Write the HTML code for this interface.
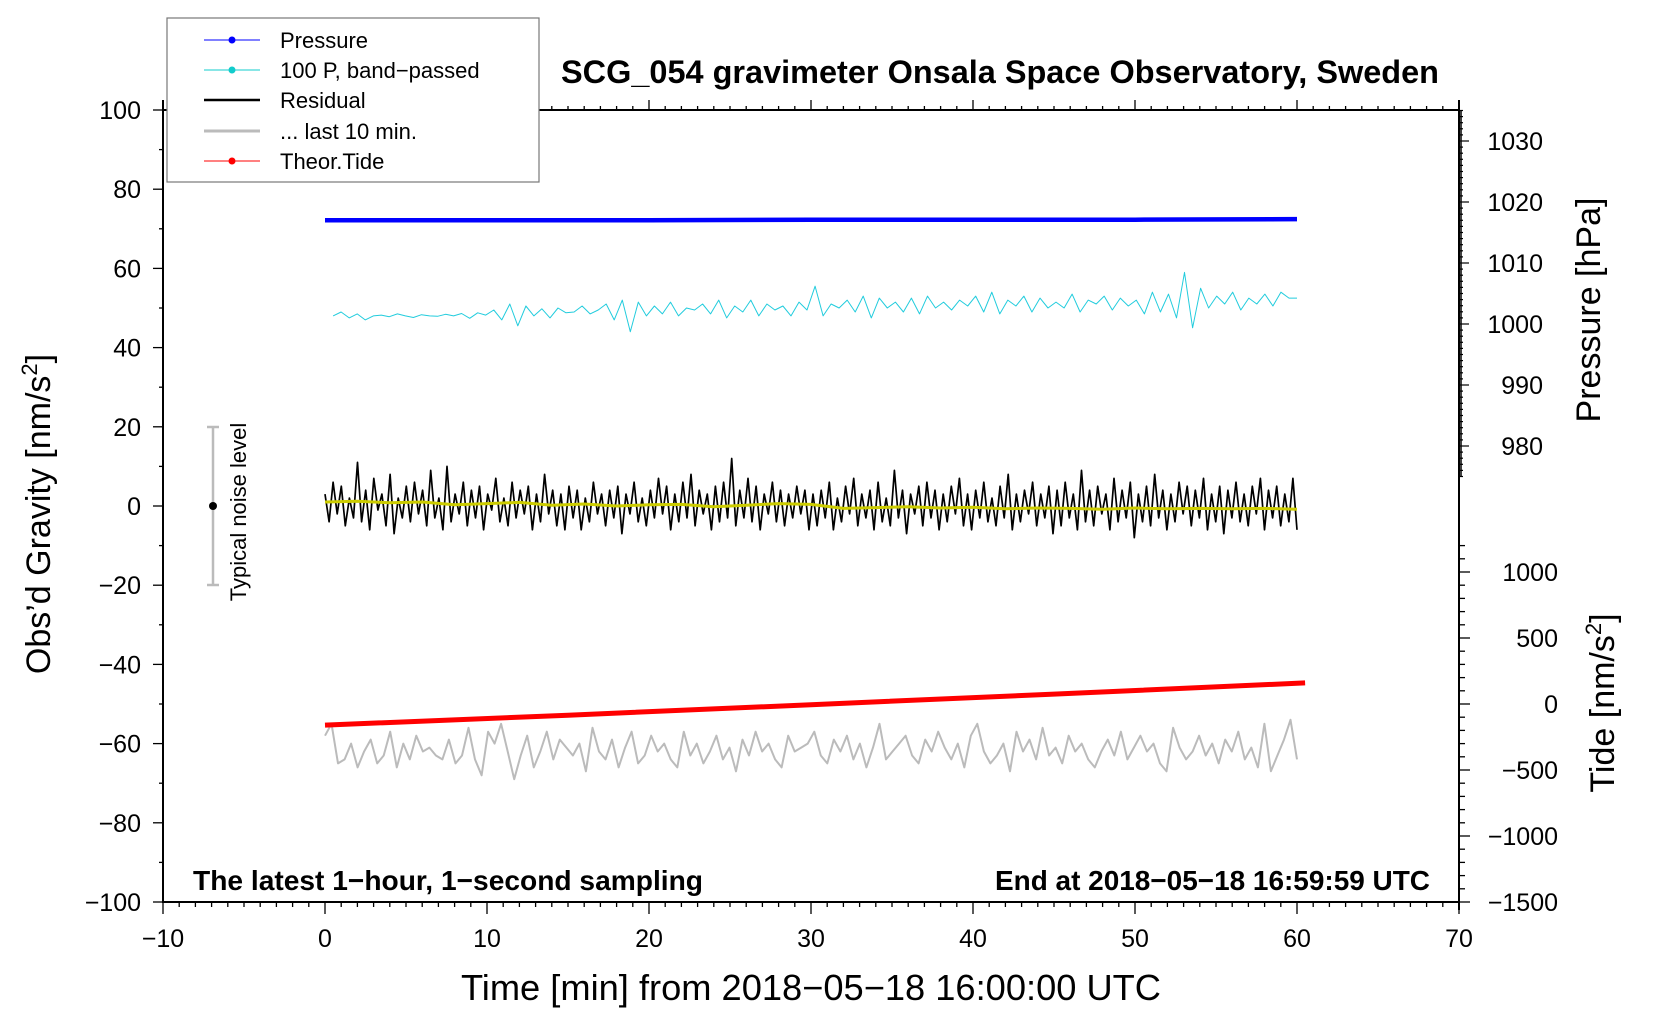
<!DOCTYPE html>
<html><head><meta charset="utf-8"><style>
html,body{margin:0;padding:0;background:#fff;}
svg{display:block;font-family:"Liberation Sans",sans-serif;}
</style></head><body>
<svg id="chart" width="1660" height="1020" viewBox="0 0 1660 1020" xmlns="http://www.w3.org/2000/svg">
<g id="frame"></g>
<g id="series"></g>
<g id="axes"></g>
<text x="1000" y="83" font-size="32" font-weight="bold" text-anchor="middle" textLength="878" lengthAdjust="spacingAndGlyphs">SCG_054 gravimeter Onsala Space Observatory, Sweden</text>
<text x="193" y="890" font-size="28" font-weight="bold" textLength="510" lengthAdjust="spacingAndGlyphs">The latest 1−hour, 1−second sampling</text>
<text x="1430" y="890" font-size="28" font-weight="bold" text-anchor="end" textLength="435" lengthAdjust="spacingAndGlyphs">End at 2018−05−18 16:59:59 UTC</text>
<text x="811" y="1000" font-size="36" text-anchor="middle" textLength="700" lengthAdjust="spacingAndGlyphs">Time [min] from 2018−05−18 16:00:00 UTC</text>
<text transform="translate(50,514) rotate(-90)" font-size="34" text-anchor="middle">Obs’d Gravity [nm/s<tspan font-size="22" dy="-13">2</tspan><tspan dy="13">]</tspan></text>
<text transform="translate(1600,310) rotate(-90)" font-size="34" text-anchor="middle">Pressure [hPa]</text>
<text transform="translate(1614,703) rotate(-90)" font-size="34" text-anchor="middle">Tide [nm/s<tspan font-size="22" dy="-13">2</tspan><tspan dy="13">]</tspan></text>
<g>
<line x1="213" y1="427" x2="213" y2="585" stroke="#bbb" stroke-width="2.5"/>
<line x1="207" y1="427" x2="219" y2="427" stroke="#bbb" stroke-width="2.5"/>
<line x1="207" y1="585" x2="219" y2="585" stroke="#bbb" stroke-width="2.5"/>
<circle cx="213" cy="506" r="4" fill="#000"/>
<text transform="translate(246,512) rotate(-90)" font-size="22" text-anchor="middle">Typical noise level</text>
</g>
<g>
<rect x="167" y="18" width="372" height="164" fill="#fff" stroke="#777" stroke-width="1.2"/>
<g><line x1="204" y1="40" x2="260" y2="40" stroke="#00f" stroke-width="1"/><circle cx="232" cy="40" r="3.5" fill="#00f"/><text x="280" y="48" font-size="22">Pressure</text></g>
<g><line x1="204" y1="70" x2="260" y2="70" stroke="#1cc" stroke-width="1"/><circle cx="232" cy="70" r="3.5" fill="#1cc"/><text x="280" y="78" font-size="22">100 P, band−passed</text></g>
<g><line x1="204" y1="100" x2="260" y2="100" stroke="#000" stroke-width="2.5"/><text x="280" y="108" font-size="22">Residual</text></g>
<g><line x1="204" y1="131" x2="260" y2="131" stroke="#bbb" stroke-width="3"/><text x="280" y="139" font-size="22">... last 10 min.</text></g>
<g><line x1="204" y1="161" x2="260" y2="161" stroke="#f00" stroke-width="1"/><circle cx="232" cy="161" r="3.5" fill="#f00"/><text x="280" y="169" font-size="22">Theor.Tide</text></g>
</g>
<script>
const xTicks=[-10,0,10,20,30,40,50,60,70];
const yTicks=[100,80,60,40,20,0,-20,-40,-60,-80,-100];
const pTicks=[1030,1020,1010,1000,990,980];
const tTicks=[1000,500,0,-500,-1000,-1500];
const pressureX=[0,10,20,30,40,50,60];
const pressureVals=[1017,1017,1017,1017.1,1017.1,1017.1,1017.2];
const tideX=[0,15,30,45,60.5];
const tideVals=[-160,-85,-5,75,160];
const bandVals=[48,49,47.5,48.5,47,48,48.2,47.8,48.5,48,47.6,48.3,48,47.9,48.4,48,48.6,47.4,48.8,48.2,
49.5,47,51,45.5,50.5,48,49.8,47.5,50,48.8,49,50.5,48.5,49.5,51,47,52,44,51.5,48,
50.5,48.5,51.5,48,50,49.5,51,48.5,52,47.5,50.5,49,52,48,51,49.5,50.5,48,51.5,49.5,
55.5,48,51,50,52,49,53,47.5,52.5,50,51.5,49,52.5,48.5,53,50,51.5,49.5,52,50.5,
53,49,54,48.5,52,50.5,53,49,52.5,50,51.5,50,53.5,49,52,51,53,49.5,52.5,50.5,
52,48.5,54,49,53.5,47.5,59,45,55,50,53,51,54,49.5,52.5,51,53.5,50.5,54,52.5,52.5];
const residualVals=[3,-4,6,-2,5,-5,2,-3,11,-4,4,-6,7,-1,3,-5,8,-7,2,-3,5,-4,6,-2,4,-5,9,-3,2,-6,10,-4,3,-2,6,-5,4,-3,5,-6,3,-1,7,-4,2,-5,6,-3,4,-2,5,-6,3,-4,8,-2,4,-5,3,-6,
5,-3,4,-6,2,-4,6,-2,3,-5,4,-3,5,-7,3,-2,6,-4,2,-5,4,-3,7,-2,5,-6,3,-4,6,-3,8,-5,4,-2,3,-6,5,-4,6,-3,12,-5,4,-3,7,-4,5,-6,3,-2,6,-4,4,-5,3,-3,5,-2,4,-6,
3,-5,4,-3,6,-6,2,-4,5,-2,7,-5,3,-3,4,-6,6,-4,2,-5,9,-3,4,-7,3,-2,5,-5,6,-3,4,-6,3,-4,5,-2,7,-5,3,-6,4,-3,6,-4,2,-5,5,-3,8,-6,3,-4,4,-2,6,-5,3,-3,5,-7,
4,-5,6,-3,3,-6,9,-4,4,-5,5,-2,3,-6,7,-4,4,-3,6,-8,3,-4,5,-5,8,-3,4,-6,3,-4,6,-2,5,-5,4,-3,7,-6,3,-4,5,-7,4,-3,6,-4,3,-5,5,-2,7,-6,4,-3,5,-5,3,-4,7,-6];
const smoothVals=[1,1.2,0.8,1,0.3,0.6,0.9,0.2,0.5,0,0.3,0.4,-0.2,0.2,0.6,0.4,-0.6,-0.4,-0.2,-0.5,-0.3,-0.7,-0.5,-0.6,-0.8,-0.5,-0.7,-0.6,-0.7,-0.6,-0.8];
const last10Vals=[-58,-55,-65,-64,-60,-66,-62,-59,-65,-63,-57,-66,-60,-64,-58,-62,-61,-63,-64,-59,-65,-63,-56,-64,-68,-57,-60,-55,-62,-69,-63,-58,-66,-62,-57,-64,-59,-61,-63,-60,-67,-56,-62,-64,-59,-66,-61,-57,-65,-63,
-58,-62,-60,-64,-66,-57,-63,-60,-65,-62,-58,-64,-61,-67,-59,-63,-57,-62,-60,-64,-66,-58,-62,-61,-60,-57,-63,-65,-59,-62,-58,-64,-60,-66,-61,-55,-64,-62,-60,-58,-63,-65,-59,-62,-57,-61,-64,-60,-66,-58,
-55,-62,-65,-63,-60,-67,-57,-62,-59,-64,-56,-63,-61,-65,-58,-62,-60,-64,-66,-62,-59,-63,-57,-64,-61,-58,-62,-60,-65,-67,-56,-61,-64,-62,-58,-63,-60,-65,-59,-62,-57,-64,-61,-66,-55,-67,-63,-59,-54,-64];

const NS='http://www.w3.org/2000/svg';
const X0=163,X1=1459,Y0=110,Y1=902;
const xs=v=>X0+(v+10)/80*(X1-X0);
const ys=v=>506-v*3.96;
const ps=v=>202-(v-1020)*6.1;
const ts=v=>704-v*0.132;
function mk(parent,tag,attrs){const e=document.createElementNS(NS,tag);for(const k in attrs)e.setAttribute(k,attrs[k]);parent.appendChild(e);return e;}
const frame=document.getElementById('frame'),series=document.getElementById('series'),axes=document.getElementById('axes');

function poly(xArr,vals,scale,color,w,name){
  const pts=vals.map((v,i)=>xs(xArr[i]).toFixed(1)+','+scale(v).toFixed(1)).join(' ');
  const p=mk(series,'polyline',{points:pts,fill:'none',stroke:color,'stroke-width':w,'stroke-linejoin':'round'});
  
  
  return p;
}
const spread=(n,a,b)=>Array.from({length:n},(_,i)=>a+(b-a)*i/(n-1));
poly(spread(last10Vals.length,0,60),last10Vals,ys,'#bbb',2,'last-10-min-line');
poly(tideX,tideVals,ts,'#f00',5,'theor-tide-line');
poly(spread(residualVals.length,0,60),residualVals,ys,'#000',1.7,'residual-line');
poly(spread(smoothVals.length,0,60),smoothVals,ys,'#cc0',3,'residual-smoothed-line');
poly(spread(bandVals.length,0.5,60),bandVals,ys,'#2cd',1,'band-passed-pressure-line');
poly(pressureX,pressureVals,ps,'#00f',4.5,'pressure-line');

const r=mk(frame,'rect',{x:X0,y:Y0,width:X1-X0,height:Y1-Y0,fill:'none',stroke:'#000','stroke-width':2});


mk(axes,'line',{x1:X0,y1:100,x2:X0,y2:Y1,stroke:'#000','stroke-width':2});
mk(axes,'line',{x1:X1,y1:100,x2:X1,y2:Y1+8,stroke:'#000','stroke-width':2});
for(let m=-10;m<=70;m++){
  const major=m%10===0;const x=xs(m);
  mk(axes,'line',{x1:x,y1:Y1,x2:x,y2:Y1+(major?12:5),stroke:'#000','stroke-width':1.3});
  mk(axes,'line',{x1:x,y1:Y0,x2:x,y2:Y0-(major?10:4),stroke:'#000','stroke-width':1.3});
}
xTicks.forEach(t=>{const e=mk(axes,'text',{x:xs(t),y:947,'font-size':25,'text-anchor':'middle'});e.textContent=String(t).replace('-','−');

});
for(let v=-100;v<=100;v+=10){const y=ys(v);mk(axes,'line',{x1:X0,y1:y,x2:X0-(v%20===0?10:4),y2:y,stroke:'#000','stroke-width':1.3});}
yTicks.forEach(t=>{const e=mk(axes,'text',{x:141,y:ys(t)+9,'font-size':25,'text-anchor':'end'});e.textContent=String(t).replace('-','−');

});
for(let p=975;p<=1035;p++){const y=ps(p);mk(axes,'line',{x1:X1,y1:y,x2:X1+(p%10===0?10:4),y2:y,stroke:'#000','stroke-width':1.2});}
mk(axes,'line',{x1:X1+2,y1:Y0,x2:X1+2,y2:ps(975),stroke:'#000','stroke-width':1.5});
pTicks.forEach(t=>{const e=mk(axes,'text',{x:1543,y:ps(t)+9,'font-size':25,'text-anchor':'end'});e.textContent=String(t);

});
for(let t=-1500;t<=1200;t+=100){const y=ts(t);mk(axes,'line',{x1:X1,y1:y,x2:X1+(t%500===0?11:6),y2:y,stroke:'#000','stroke-width':1.3});}
tTicks.forEach(t=>{const e=mk(axes,'text',{x:1558,y:ts(t)+9,'font-size':25,'text-anchor':'end'});e.textContent=String(t).replace('-','−');

});
</script>
</svg>
</body></html>
